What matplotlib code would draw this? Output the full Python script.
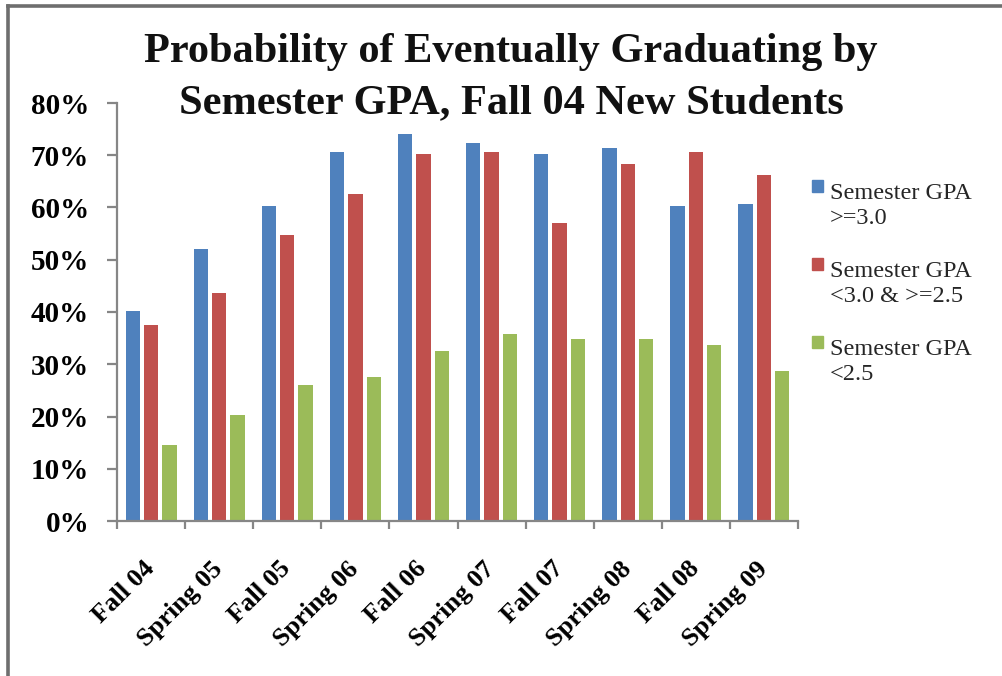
import matplotlib
matplotlib.use('Agg')
import matplotlib.pyplot as plt
import numpy as np
from matplotlib.lines import Line2D
from matplotlib.patches import Rectangle
from matplotlib.ticker import PercentFormatter
import matplotlib.transforms as mtransforms

# Data (percent)
semesters = ['Fall 04', 'Spring 05', 'Fall 05', 'Spring 06', 'Fall 06',
             'Spring 07', 'Fall 07', 'Spring 08', 'Fall 08', 'Spring 09']
gpa_high = [40.2, 52.1, 60.2, 70.6, 74.0, 72.4, 70.2, 71.3, 60.2, 60.6]
gpa_mid = [37.5, 43.7, 54.8, 62.5, 70.2, 70.6, 57.1, 68.3, 70.6, 66.3]
gpa_low = [14.5, 20.2, 26.0, 27.6, 32.5, 35.7, 34.8, 34.8, 33.7, 28.7]

series_labels = ['Semester GPA\n>=3.0', 'Semester GPA\n<3.0 & >=2.5', 'Semester GPA\n<2.5']
colors = ['#4F81BD', '#C0504D', '#9BBB59']

W, H = 1002, 676
fig = plt.figure(figsize=(W / 100, H / 100), dpi=100)
fig.patch.set_facecolor('white')

# axes placed in pixel terms
x0, x1, y_top, y_bot = 117, 798, 103, 521
ax = fig.add_axes([x0 / W, 1 - y_bot / H, (x1 - x0) / W, (y_bot - y_top) / H])

x = np.arange(len(semesters))
offsets = [-0.27, 0.0, 0.27]
bw = 0.21
for vals, off, c in zip([gpa_high, gpa_mid, gpa_low], offsets, colors):
    ax.bar(x + off, vals, width=bw, color=c, edgecolor='none')

ax.set_xlim(-0.5, len(semesters) - 0.5)
ax.set_ylim(0, 80)
ax.set_yticks(np.arange(0, 81, 10))
ax.yaxis.set_major_formatter(PercentFormatter(decimals=0))

for s in ['top', 'right']:
    ax.spines[s].set_visible(False)
for s in ['left', 'bottom']:
    ax.spines[s].set_color('#868686')
    ax.spines[s].set_linewidth(1.6)

serif = 'Liberation Serif'
ax.tick_params(axis='y', direction='out', length=7, width=1.6, color='#868686',
               pad=13, labelsize=21)
for lab in ax.get_yticklabels():
    lab.set_fontfamily(serif)
    lab.set_fontweight('bold')

# category labels, ticks at the group boundaries
ax.set_xticks(x)
ax.set_xticklabels(semesters, rotation=45, ha='right', fontsize=19,
                   fontfamily=serif, fontweight='bold')
ax.tick_params(axis='x', which='major', length=0, pad=26)
ax.set_xticks(np.arange(-0.5, len(semesters), 1.0), minor=True)
ax.tick_params(axis='x', which='minor', direction='out', length=6, width=1.6,
               color='#868686')
shift = mtransforms.ScaledTranslation(8 / 100, 0, fig.dpi_scale_trans)
for lab in ax.get_xticklabels():
    lab.set_transform(lab.get_transform() + shift)

# title
fig.text(511 / W, 1 - 62 / H, 'Probability of Eventually Graduating by',
         ha='center', va='baseline', fontsize=30.5, fontfamily=serif,
         fontweight='bold', color='#111111')
fig.text(511 / W, 1 - 113 / H, 'Semester GPA, Fall 04 New Students',
         ha='center', va='baseline', fontsize=30.5, fontfamily=serif,
         fontweight='bold', color='#111111')

# legend drawn by hand so the swatch lines up with the first text line
leg_y = [186, 264, 342]
line_gap = 30
for lab, c, yc in zip(series_labels, colors, leg_y):
    fig.patches.append(Rectangle((812 / W, 1 - (yc + 6) / H), 11 / W, 12 / H,
                                 transform=fig.transFigure, color=c, figure=fig))
    # multi-line text with va='baseline' puts the last line on the baseline
    fig.text(830 / W, 1 - (yc + 8 + line_gap) / H, lab, ha='left', va='baseline',
             fontsize=17.5, fontfamily=serif, color='#262626', linespacing=1.22)

# outer border (left and top)
fig.add_artist(Line2D([8 / W, 8 / W], [0, 1 - 6 / H], transform=fig.transFigure,
                      color='#6e6e6e', lw=2.6))
fig.add_artist(Line2D([8 / W, 1], [1 - 6 / H, 1 - 6 / H], transform=fig.transFigure,
                      color='#6e6e6e', lw=2.6))

fig.savefig('out.png', dpi=100, facecolor='white')
